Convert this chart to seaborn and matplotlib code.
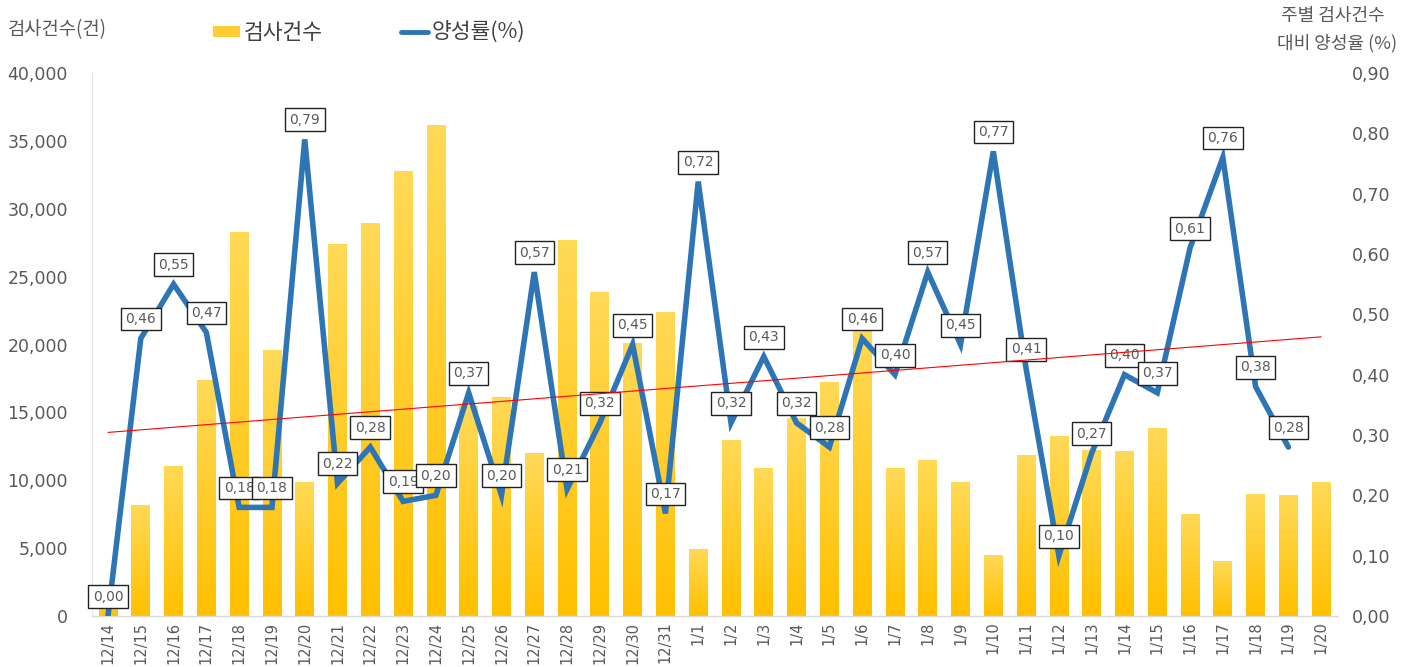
import numpy as np
import pandas as pd
import matplotlib
matplotlib.use("Agg")
import matplotlib.pyplot as plt
import seaborn as sns
from matplotlib.colors import LinearSegmentedColormap
from matplotlib.patches import Patch
from matplotlib.lines import Line2D

# ---------------- data ----------------
dates = ["12/14", "12/15", "12/16", "12/17", "12/18", "12/19", "12/20", "12/21", "12/22",
         "12/23", "12/24", "12/25", "12/26", "12/27", "12/28", "12/29", "12/30", "12/31",
         "1/1", "1/2", "1/3", "1/4", "1/5", "1/6", "1/7", "1/8", "1/9", "1/10", "1/11",
         "1/12", "1/13", "1/14", "1/15", "1/16", "1/17", "1/18", "1/19", "1/20"]
tests = [1300, 8200, 11050, 17400, 28300, 19600, 9870, 27400, 28950, 32800, 36200,
         15500, 16100, 12000, 27700, 23900, 20100, 22400, 4950, 12950, 10900, 14600,
         17250, 21050, 10900, 11500, 9870, 4500, 11850, 13250, 12250, 12150, 13850,
         7500, 4050, 9000, 8900, 9870]
positive_rate = [0.00, 0.46, 0.55, 0.47, 0.18, 0.18, 0.79, 0.22, 0.28, 0.19, 0.20,
                 0.37, 0.20, 0.57, 0.21, 0.32, 0.45, 0.17, 0.72, 0.32, 0.43, 0.32,
                 0.28, 0.46, 0.40, 0.57, 0.45, 0.77, 0.41, 0.10, 0.27, 0.40, 0.37,
                 0.61, 0.76, 0.38, 0.28]
left_ticks = [0, 5000, 10000, 15000, 20000, 25000, 30000, 35000, 40000]
right_ticks = [0.0, 0.1, 0.2, 0.3, 0.4, 0.5, 0.6, 0.7, 0.8, 0.9]

# ---------------- style ----------------
sns.set_theme(style="white")
plt.rcParams["font.family"] = ["DejaVu Sans", "Noto Sans CJK KR"]
KR = ["Noto Sans CJK KR", "DejaVu Sans"]
GRAY = "#595959"
BLUE = "#2E75B6"

fig = plt.figure(figsize=(14.12, 6.67), dpi=100)
ax = fig.add_axes([91.6 / 1412, 51 / 667, 1246 / 1412, 543 / 667])

df_bar = pd.DataFrame({"date": dates, "tests": tests})
sns.barplot(data=df_bar, x="date", y="tests", ax=ax, color="#FFC000",
            width=0.57, saturation=1, order=dates)

# gradient fill on each bar
cmap = LinearSegmentedColormap.from_list("g", ["#FFC000", "#FFD957"])
grad = np.linspace(0, 1, 256).reshape(-1, 1)
for p in list(ax.patches):
    x0, y0 = p.get_x(), p.get_y()
    w, h = p.get_width(), p.get_height()
    if h <= 0:
        continue
    im = ax.imshow(grad, extent=[x0, x0 + w, y0, y0 + h], aspect="auto",
                   cmap=cmap, origin="lower", zorder=p.get_zorder())
    im.set_clip_path(p)
    p.set_facecolor("none")
    p.set_edgecolor("none")

ax.set_xlim(-0.5, len(dates) - 0.5)
ax.set_ylim(0, 40000)
ax.set_yticks(left_ticks)
ax.set_yticklabels([f"{v:,}" for v in left_ticks])
ax.set_xlabel("")
ax.set_ylabel("")
ax.tick_params(axis="y", length=0, pad=17, labelsize=12.5, labelcolor=GRAY)
ax.tick_params(axis="x", length=0, pad=4, labelsize=10.5, labelcolor=GRAY, rotation=90)
for s in ["top", "right"]:
    ax.spines[s].set_visible(False)
ax.spines["bottom"].set_color("#D9D9D9")
ax.spines["left"].set_color("#E6E6E6")
ax.spines["bottom"].set_linewidth(1)
ax.spines["left"].set_linewidth(0.8)
ax.grid(False)

# ---------------- line on secondary axis ----------------
ax2 = ax.twinx()
xpos = np.arange(len(positive_rate))
df_line = pd.DataFrame({"x": xpos, "rate": positive_rate})
sns.lineplot(data=df_line, x="x", y="rate", ax=ax2, color=BLUE, linewidth=4,
             solid_joinstyle="miter", zorder=3)
ax2.set_ylim(0, 0.9)
ax2.set_xlim(-0.5, len(dates) - 0.5)
ax2.set_yticks(right_ticks)
ax2.set_yticklabels([f"{v:.2f}".replace(".", ",") for v in right_ticks])
ax2.tick_params(axis="y", length=0, pad=10.5, labelsize=12.5, labelcolor=GRAY)
ax2.set_xlabel("")
ax2.set_ylabel("")
for s in ["top", "right", "left", "bottom"]:
    ax2.spines[s].set_visible(False)
ax2.grid(False)

for xi, v in zip(xpos, positive_rate):
    ax2.annotate(f"{v:.2f}".replace(".", ","), (xi, v), xytext=(0, 14),
                 textcoords="offset points", ha="center", va="center",
                 fontsize=10, color=GRAY, zorder=5,
                 bbox=dict(boxstyle="square,pad=0.32", fc="white", ec="#222222", lw=1))

# linear trend line (least squares fit of the rate series)
coef = np.polyfit(xpos, positive_rate, 1)
xt = np.array([0, len(dates) - 1])
ax2.plot(xt, np.polyval(coef, xt), color="#FF0000", lw=0.8, zorder=10)

# ---------------- titles & legend ----------------
fig.text(8 / 1412, 1 - 30 / 667, "검사건수(건)", ha="left", va="center",
         fontsize=13.5, color=GRAY, family=KR)
fig.text(1385 / 1412, 1 - 16 / 667, "주별 검사건수", ha="right", va="center",
         fontsize=13, color=GRAY, family=KR)
fig.text(1397 / 1412, 1 - 43 / 667, "대비 양성율 (%)", ha="right", va="center",
         fontsize=13, color=GRAY, family=KR)

handles = [Patch(facecolor="#FFCC33", edgecolor="none"),
           Line2D([0], [0], color=BLUE, lw=3.5)]
fig.legend(handles, ["검사건수", "양성률(%)"], loc="center left",
           bbox_to_anchor=(213 / 1412, 1 - 33 / 667), ncol=2, frameon=False,
           prop={"family": KR, "size": 15.5}, handlelength=1.25, handleheight=0.45,
           handletextpad=0.2, columnspacing=3.6, borderpad=0, borderaxespad=0,
           labelcolor="#404040")

fig.savefig("out.png", dpi=100)
